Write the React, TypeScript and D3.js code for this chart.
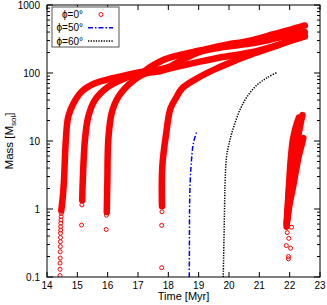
import React from "react";
import * as d3 from "d3";

// ---- data ----
const xTicks = [14, 15, 16, 17, 18, 19, 20, 21, 22, 23];
const yTicks = [0.1, 1, 10, 100, 1000];
const yTickLabels = ["0.1", "1", "10", "100", "1000"];

// phi = 0 : sparse early points (circles)
const sparseT = [14.43, 14.43, 14.43, 14.435, 14.435, 14.44, 14.44, 14.445, 14.445, 14.45, 14.45, 14.455, 14.46, 14.465, 14.47,
  15.14, 15.15, 15.16, 15.95, 15.96, 17.78, 17.78, 17.79,
  21.89, 22.03, 21.96, 21.96, 21.97, 22.06, 21.92];
const sparseM = [0.105, 0.13, 0.16, 0.19, 0.235, 0.28, 0.33, 0.38, 0.44, 0.49, 0.55, 0.62, 0.69, 0.77, 0.86,
  0.58, 1.15, 1.31, 0.5, 0.81, 0.137, 0.575, 0.91,
  0.29, 0.265, 0.2, 0.185, 0.37, 0.54, 0.45];

// phi = 0 : dense tracks (runs of overlapping markers)
const track1T = [14.47, 14.52, 14.56, 14.62, 14.7, 14.87, 15.14, 15.58, 16.13, 17.12, 17.5, 18.0, 18.5, 19.04, 19.8, 20.69, 21.5, 22.0, 22.5];
const track1M = [0.95, 1.5, 2.67, 10.3, 22.7, 35.6, 53, 70.5, 83, 104, 108, 122, 160, 205, 240, 270, 320, 360, 400];
const track2T = [15.16, 15.18, 15.25, 15.36, 15.58, 16.02, 16.57, 17.12, 17.4, 17.9, 18.5, 19.04, 19.8, 20.69, 21.5, 22.0, 22.5];
const track2M = [1.35, 2.67, 10.3, 22.7, 40, 63, 84, 100, 122, 160, 190, 214, 255, 300, 375, 430, 500];
const track3T = [15.97, 15.99, 16.02, 16.13, 16.35, 16.79, 17.23, 17.6, 18.0, 18.5, 19.04, 19.8, 20.69, 21.5, 22.0, 22.5];
const track3M = [0.9, 2.67, 10.3, 25.5, 44.6, 74, 98, 104, 115, 130, 147, 172, 200, 250, 295, 345];
const track4T = [17.79, 17.8, 17.93, 18.07, 18.28, 18.46, 19.04, 19.6, 20.25, 20.69, 21.5, 22.0, 22.5];
const track4M = [1.1, 4.2, 13, 30, 45, 60, 88, 117, 155, 185, 245, 295, 350];
const track5aT = [21.9, 21.93, 21.97, 22.03, 22.1, 22.2, 22.3];
const track5aM = [0.6, 1, 2, 5, 10, 16, 22];
const track5bT = [21.92, 22.0, 22.1, 22.2, 22.3, 22.4, 22.45];
const track5bM = [0.7, 1.2, 2, 3.5, 6, 9, 11];
const track5cT = [21.91, 22.0, 22.1, 22.2, 22.3, 22.38, 22.42];
const track5cM = [0.65, 1.5, 3.5, 7, 13, 20, 24];
const track5dT = [21.9, 21.95, 22.02, 22.1, 22.2, 22.3, 22.36];
const track5dM = [0.55, 1.2, 3, 6, 11, 17, 22];

// phi = 50
const phi50T = [18.69, 18.695, 18.7, 18.72, 18.76, 18.82, 18.94];
const phi50M = [0.1, 0.3, 1, 2.5, 5, 9, 14];
// phi = 60
const phi60T = [19.81, 19.84, 19.86, 19.87, 19.92, 20.0, 20.09, 20.36, 20.6, 20.91, 21.25, 21.57];
const phi60M = [0.1, 0.5, 1.5, 2.4, 5.9, 9, 13, 28.6, 45, 66, 85, 101];

const legendLabels = ["ϕ=0°", "ϕ=50°", "ϕ=60°"];

const W = 327, H = 305;
const L = 47, R = 320, T = 5, B = 277;
const FONT = "'Liberation Sans', Arial, sans-serif";

export default function App() {
  const x = d3.scaleLinear().domain([14, 23]).range([L, R]);
  const y = d3.scaleLog().domain([0.1, 1000]).range([B, T]);
  const line = d3.line<[number, number]>()
    .x((d) => x(d[0]))
    .y((d) => y(d[1]))
    .curve(d3.curveCatmullRom.alpha(0.5));
  const zip = (a: number[], b: number[]) => a.map((v, i) => [v, b[i]] as [number, number]);

  const tracks = [
    zip(track1T, track1M), zip(track2T, track2M), zip(track3T, track3M), zip(track4T, track4M),
    zip(track5aT, track5aM), zip(track5bT, track5bM), zip(track5cT, track5cM), zip(track5dT, track5dM),
  ];

  const minor: number[] = [];
  for (let e = -1; e < 3; e++) for (let k = 2; k <= 9; k++) minor.push(k * Math.pow(10, e));

  return (
    <svg width={W} height={H} style={{ position: "absolute", left: 0, top: 0, background: "#fff" }} fontFamily={FONT}>
      <defs>
        <clipPath id="plot"><rect x={L} y={T} width={R - L} height={B - T} /></clipPath>
      </defs>
      <rect x={0} y={0} width={W} height={H} fill="#fff" />
      <g clipPath="url(#plot)">
        {tracks.map((tr, i) => (
          <path key={i} d={line(tr) || ""} fill="none" stroke="#ff0000" strokeWidth={6.5} strokeLinecap="round" strokeLinejoin="round" />
        ))}
        {sparseT.map((t, i) => (
          <circle key={i} cx={x(t)} cy={y(sparseM[i])} r={2} fill="none" stroke="#ff0000" strokeWidth={1} />
        ))}
        <path d={line(zip(phi50T, phi50M)) || ""} fill="none" stroke="#0000ff" strokeWidth={1.5} strokeDasharray="5,2,1.5,2" />
        <path d={line(zip(phi60T, phi60M)) || ""} fill="none" stroke="#000" strokeWidth={1.5} strokeDasharray="1.3,1.3" />
      </g>
      {/* frame */}
      <rect x={L} y={T} width={R - L} height={B - T} fill="none" stroke="#000" strokeWidth={1} />
      {/* x ticks */}
      {xTicks.map((t) => (
        <g key={t}>
          <line x1={x(t)} x2={x(t)} y1={B} y2={B - 5} stroke="#000" />
          <line x1={x(t)} x2={x(t)} y1={T} y2={T + 5} stroke="#000" />
          <text x={x(t)} y={288.5} fontSize={10} textAnchor="middle">{t}</text>
        </g>
      ))}
      {/* y ticks */}
      {yTicks.map((v, i) => (
        <g key={v}>
          <line x1={L} x2={L + 6} y1={y(v)} y2={y(v)} stroke="#000" />
          <line x1={R} x2={R - 6} y1={y(v)} y2={y(v)} stroke="#000" />
          <text x={40} y={y(v) + 3.5} fontSize={10} textAnchor="end">{yTickLabels[i]}</text>
        </g>
      ))}
      {minor.map((v) => (
        <g key={"m" + v}>
          <line x1={L} x2={L + 3} y1={y(v)} y2={y(v)} stroke="#000" />
          <line x1={R} x2={R - 3} y1={y(v)} y2={y(v)} stroke="#000" />
        </g>
      ))}
      {/* axis titles */}
      <text x={(L + R) / 2} y={299.5} fontSize={11} textAnchor="middle">Time [Myr]</text>
      <text transform={`translate(13,${(T + B) / 2}) rotate(-90)`} fontSize={11.5} textAnchor="middle">
        Mass [M<tspan fontSize={8} dy={3}>sol</tspan><tspan dy={-3}>]</tspan>
      </text>
      {/* legend */}
      <rect x={52} y={7} width={67} height={40} fill="#fff" stroke="#555" strokeWidth={1} />
      {legendLabels.map((lab, i) => (
        <text key={lab} x={83} y={18 + i * 13.3} fontSize={10} textAnchor="end">{lab}</text>
      ))}
      <circle cx={101} cy={14.5} r={2} fill="none" stroke="#ff0000" strokeWidth={1} />
      <line x1={88} x2={113} y1={27.8} y2={27.8} stroke="#0000ff" strokeWidth={1.5} strokeDasharray="5,2,1.5,2" />
      <line x1={88} x2={113} y1={41.1} y2={41.1} stroke="#000" strokeWidth={1.5} strokeDasharray="1.3,1.3" />
    </svg>
  );
}
